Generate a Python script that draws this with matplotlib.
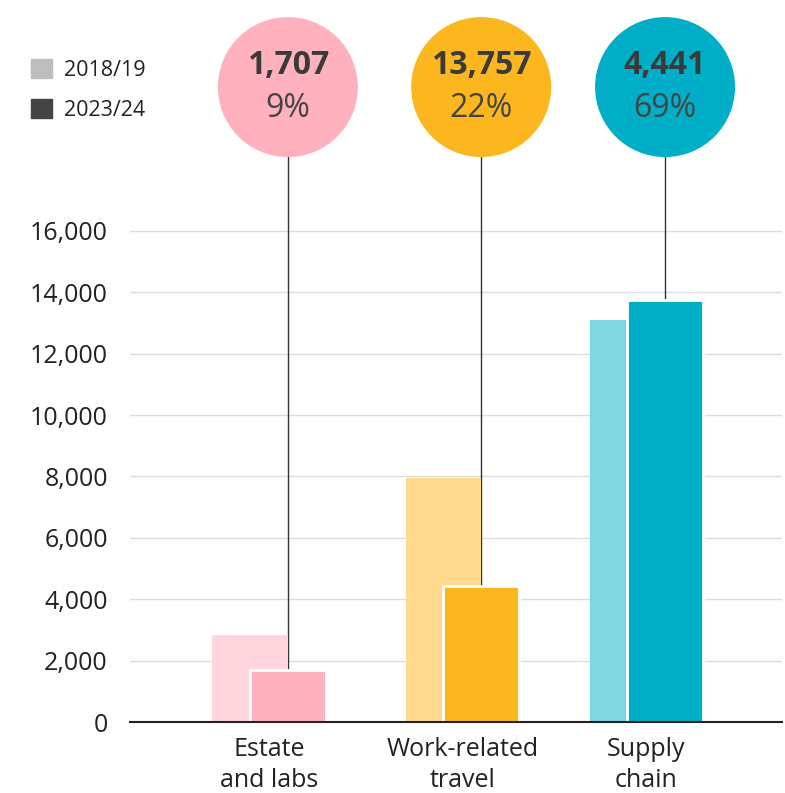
import matplotlib
matplotlib.use("Agg")
import matplotlib.pyplot as plt
from matplotlib.patches import Patch
import numpy as np

plt.rcParams['font.family'] = ['Open Sans', 'DejaVu Sans']

categories = ["Estate\nand labs", "Work-related\ntravel", "Supply\nchain"]
v_2018 = [2830, 7950, 13100]
v_2023 = [1707, 4441, 13757]
bubble_values = ["1,707", "13,757", "4,441"]
bubble_pcts = ["9%", "22%", "69%"]
light_colors = ["#ffd6dd", "#fed98e", "#80d5e1"]
dark_colors = ["#ffb1bd", "#fdb71e", "#00aec7"]
yticks = np.arange(0, 16001, 2000)

fig = plt.figure(figsize=(7.85, 7.93), dpi=100)
ax = fig.add_axes([130 / 785, 71 / 793, 652 / 785, 722 / 793])

x = np.array([0, 1.025, 2])
w = 0.4
ax.bar(x - 0.1, v_2018, width=w, color=light_colors, zorder=2)
ax.bar(x + 0.1, v_2023, width=w, color=dark_colors, edgecolor="white",
       linewidth=2, zorder=3)

# bubbles on top, joined to the 2023/24 bars
bubble_y = 20690
ax.vlines(x + 0.1, v_2023, bubble_y, color="#333333", linewidth=1, zorder=1)
ax.scatter(x + 0.1, [bubble_y] * 3, s=10160, c=dark_colors, zorder=4,
           linewidths=0, clip_on=False)
for xi, val, pct in zip(x + 0.1, bubble_values, bubble_pcts):
    ax.text(xi, 21380, val, ha="center", va="center", fontsize=23,
            fontweight="bold", color="#3a3a3a", zorder=5)
    ax.text(xi, 20000, pct, ha="center", va="center", fontsize=23,
            color="#444444", zorder=5)

ax.set_xlim(-0.737, 2.72)
ax.set_ylim(0, 23527)
ax.set_yticks(yticks)
ax.set_yticklabels([f"{v:,}" for v in yticks])
ax.set_xticks(x)
ax.set_xticklabels(categories, linespacing=1.3)
ax.tick_params(axis="y", length=0, pad=16, labelsize=18, labelcolor="#222222")
ax.tick_params(axis="x", length=0, pad=11, labelsize=18, labelcolor="#222222")
ax.grid(axis="y", color="#dddddd", linewidth=1, zorder=0)
ax.set_axisbelow(True)
for s in ["top", "right", "left"]:
    ax.spines[s].set_visible(False)
ax.spines["bottom"].set_color("#222222")
ax.spines["bottom"].set_linewidth(1.5)
ax.spines["bottom"].set_zorder(6)

handles = [Patch(color="#bdbdbd", label="2018/19"),
           Patch(color="#444444", label="2023/24")]
fig.legend(handles=handles, loc="upper left", bbox_to_anchor=(12 / 785, 1 - 40 / 793),
           frameon=False, fontsize=15.5, handlelength=0.95, handleheight=0.95,
           handletextpad=0.55, labelspacing=0.85, labelcolor="#222222")

fig.savefig("out.png", dpi=100)
